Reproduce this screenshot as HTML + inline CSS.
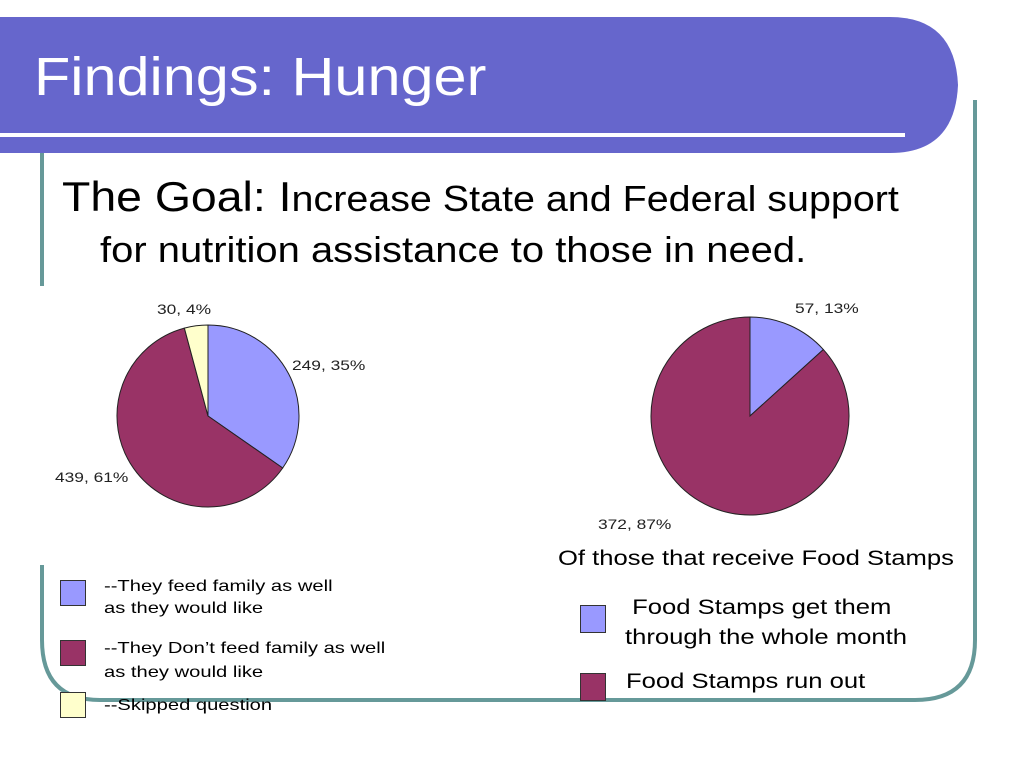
<!DOCTYPE html>
<html><head><meta charset="utf-8"><style>
body{margin:0;width:1024px;height:768px;background:#fff;position:relative;overflow:hidden;font-family:"Liberation Sans",sans-serif}
.a{position:absolute;white-space:nowrap;transform-origin:0 0}
</style></head><body>
<svg width="1024" height="768" style="position:absolute;left:0;top:0">
<path d="M42,565 L42,640 Q42,700 100,700 L915,700 Q975,700 975,640 L975,100" fill="none" stroke="#669999" stroke-width="4"/>
<line x1="42" y1="152" x2="42" y2="286" stroke="#669999" stroke-width="4"/>
<path d="M0,17 L890,17 Q955,17 958,85 Q955,153 890,153 L0,153 Z" fill="#6666cc"/>
<line x1="0" y1="135" x2="905" y2="135" stroke="#fff" stroke-width="4"/>
<g id="pies"></g>
</svg>
<div class="a" style="left:34px;top:46px;font-size:54px;color:#fff;transform:scaleX(1.1)">Findings: Hunger</div>
<div class="a" style="left:62px;top:174px;font-size:40px;transform:scale(1.16,1.05)"><span style="font-size:40px">The Goal: I</span><span style="font-size:34px">ncrease State and Federal support</span></div>
<div class="a" style="left:100px;top:230px;font-size:34px;transform:scale(1.175,1.06)">for nutrition assistance to those in need.</div>
<div class="a" style="left:157px;top:301px;font-size:14px;color:#222;transform:scaleX(1.24)">30, 4%</div>
<div class="a" style="left:292px;top:357px;font-size:14px;color:#222;transform:scaleX(1.24)">249, 35%</div>
<div class="a" style="left:55px;top:469px;font-size:14px;color:#222;transform:scaleX(1.24)">439, 61%</div>
<div class="a" style="left:795px;top:300px;font-size:14px;color:#222;transform:scaleX(1.24)">57, 13%</div>
<div class="a" style="left:598px;top:516px;font-size:14px;color:#222;transform:scaleX(1.24)">372, 87%</div>
<div class="a" style="left:558px;top:547px;font-size:21px;transform:scaleX(1.22)">Of those that receive Food Stamps</div>
<div class="a" style="left:60px;top:580px;width:24px;height:24px;background:#9999ff;border:1px solid #333"></div>
<div class="a" style="left:104px;top:576px;font-size:16px;line-height:22px;transform:scaleX(1.26)">--They feed family as well<br>as they would like</div>
<div class="a" style="left:60px;top:640px;width:24px;height:24px;background:#993366;border:1px solid #333"></div>
<div class="a" style="left:104px;top:637px;font-size:16px;line-height:24px;transform:scaleX(1.26)">--They Don’t feed family as well<br>as they would like</div>
<div class="a" style="left:60px;top:692px;width:24px;height:24px;background:#ffffcc;border:1px solid #333"></div>
<div class="a" style="left:104px;top:697px;font-size:16px;transform:scaleX(1.26)">--Skipped question</div>
<div class="a" style="left:580px;top:605px;width:24px;height:26px;background:#9999ff;border:1px solid #333"></div>
<div class="a" style="left:625px;top:593px;font-size:21px;line-height:30px;transform:scaleX(1.22)">&nbsp;Food Stamps get them<br>through the whole month</div>
<div class="a" style="left:580px;top:673px;width:24px;height:26px;background:#993366;border:1px solid #333"></div>
<div class="a" style="left:626px;top:670px;font-size:21px;transform:scaleX(1.22)">Food Stamps run out</div>
<script>
const leftCategories=["They feed family","They don't feed family","Skipped"];
const leftValues=[249,439,30];
const leftColors=["#9999ff","#993366","#ffffcc"];
const rightCategories=["Whole month","Run out"];
const rightValues=[57,372];
const rightColors=["#9999ff","#993366"];
const g=document.getElementById('pies');
function pie(vals,cols,cx,cy,r,name){
  const tot=vals.reduce((a,b)=>a+b,0);let a0=0;
  vals.forEach((v,i)=>{
    const a1=a0+v/tot*2*Math.PI;
    const x0=cx+r*Math.sin(a0),y0=cy-r*Math.cos(a0),x1=cx+r*Math.sin(a1),y1=cy-r*Math.cos(a1);
    const p=document.createElementNS('http://www.w3.org/2000/svg','path');
    p.setAttribute('d',`M${cx},${cy}L${x0},${y0}A${r},${r} 0 ${a1-a0>Math.PI?1:0} 1 ${x1},${y1}Z`);
    p.setAttribute('fill',cols[i]);p.setAttribute('stroke','#222');p.setAttribute('stroke-width','1');
    
    
    g.appendChild(p);a0=a1;
  });
}
pie(leftValues,leftColors,208,416,91,'left-pie');
pie(rightValues,rightColors,750,416,99,'right-pie');
</script>
</body></html>
